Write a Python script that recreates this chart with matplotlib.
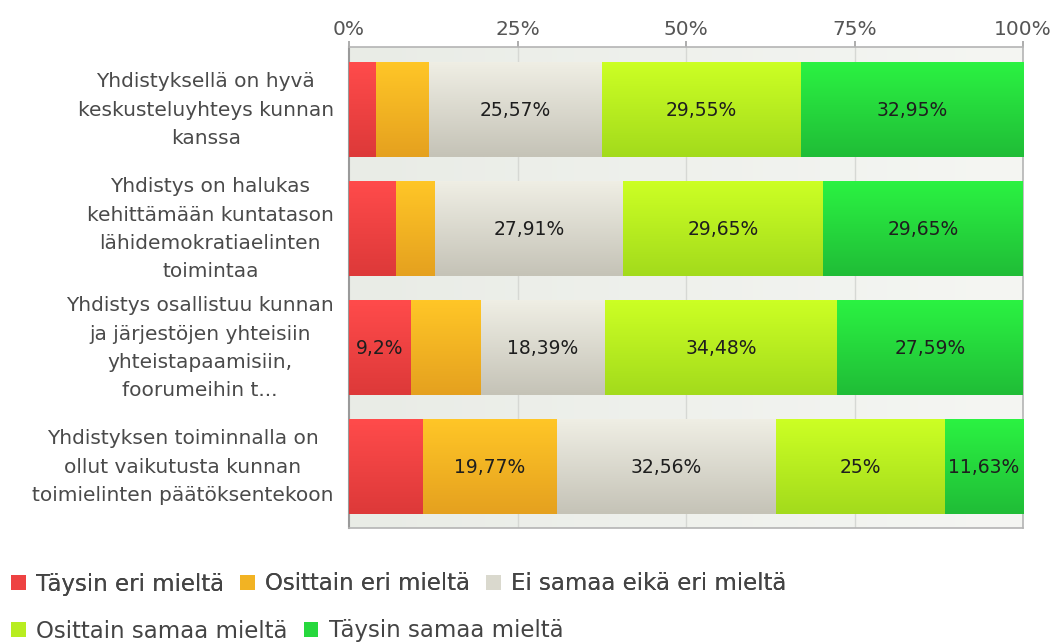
import numpy as np
import matplotlib
matplotlib.use("Agg")
import matplotlib.pyplot as plt
from matplotlib.colors import LinearSegmentedColormap, to_rgb
from matplotlib.patches import Patch

plt.rcParams['font.family'] = ['DejaVu Sans']

# ---------------------------------------------------------------------
# data
# ---------------------------------------------------------------------
categories = [
    "Yhdistyksellä on hyvä\nkeskusteluyhteys kunnan\nkanssa",
    "Yhdistys on halukas\nkehittämään kuntatason\nlähidemokratiaelinten\ntoimintaa",
    "Yhdistys osallistuu kunnan\nja järjestöjen yhteisiin\nyhteistapaamisiin,\nfoorumeihin t...",
    "Yhdistyksen toiminnalla on\nollut vaikutusta kunnan\ntoimielinten päätöksentekoon",
]
series_names = ["Täysin eri mieltä", "Osittain eri mieltä", "Ei samaa eikä eri mieltä",
                "Osittain samaa mieltä", "Täysin samaa mieltä"]

taysin_eri = [3.98, 6.98, 9.2, 11.05]
osittain_eri = [7.95, 5.81, 10.34, 19.77]
ei_samaa = [25.57, 27.91, 18.39, 32.56]
osittain_samaa = [29.55, 29.65, 34.48, 25.0]
taysin_samaa = [32.95, 29.65, 27.59, 11.63]
series_values = [taysin_eri, osittain_eri, ei_samaa, osittain_samaa, taysin_samaa]

# which segments carry a value label in the original (per series, per row)
show_label = [
    [False, False, True, False],
    [False, False, False, True],
    [True, True, True, True],
    [True, True, True, True],
    [True, True, True, True],
]

xticks = [0, 25, 50, 75, 100]
xtick_labels = ["0%", "25%", "50%", "75%", "100%"]

# gradient colours per series (top, bottom)
col_top = ['#FF4B4B', '#FFC627', '#EFEEE4', '#CCFF24', '#2BF242']
col_bot = ['#DD3939', '#E5A11F', '#C5C3B7', '#A3DB1C', '#20BD37']

# ---------------------------------------------------------------------
# figure
# ---------------------------------------------------------------------
fig = plt.figure(figsize=(10.53, 6.42), dpi=100)
ax = fig.add_axes([349 / 1053, 1 - 528 / 642, 674 / 1053, 481 / 642])

# plot-area background, slight horizontal gradient
bg = LinearSegmentedColormap.from_list('bg', ['#E9ECE6', '#F5F6F3'])
ax.imshow(np.linspace(0, 1, 256).reshape(1, -1), cmap=bg, aspect='auto',
          extent=[0, 1, 0, 1], transform=ax.transAxes, zorder=0)

y = np.arange(len(categories))
left = np.zeros(len(categories))
for i, vals in enumerate(series_values):
    vals = np.array(vals)
    bars = ax.barh(y, vals, left=left, height=0.79, color=col_bot[i],
                   edgecolor='none', zorder=2)
    cmap = LinearSegmentedColormap.from_list('s%d' % i, [col_top[i], col_bot[i]])
    grad = np.linspace(0, 1, 64).reshape(-1, 1)
    for j, b in enumerate(bars):
        x0, w = b.get_x(), b.get_width()
        y0, h = b.get_y(), b.get_height()
        ax.imshow(grad, cmap=cmap, aspect='auto', origin='upper',
                  extent=[x0, x0 + w, y0 + h, y0], zorder=3,
                  interpolation='bilinear')
        if show_label[i][j]:
            txt = f"{vals[j]:g}".replace('.', ',') + "%"
            ax.text(x0 + w / 2, y0 + h / 2, txt, ha='center', va='center',
                    fontsize=13.5, color='#1E1E1E', zorder=5)
    left += vals

ax.set_xlim(0, 100)
ax.set_ylim(len(categories) - 0.49, -0.53)

# grid + ticks
for gx in xticks[1:-1]:
    ax.axvline(gx, color='#D6D8D4', lw=1, zorder=1)
ax.xaxis.tick_top()
ax.set_xticks(xticks)
ax.set_xticklabels(xtick_labels, fontsize=14.5, color='#555555')
ax.tick_params(axis='x', length=4, width=1.2, color='#A0A0A0', pad=2)
ax.set_yticks(y)
ax.set_yticklabels(categories, fontsize=14.5, color='#4A4A4A', va='center',
                   multialignment='center', linespacing=1.62)
ax.tick_params(axis='y', length=0, pad=11)

for side in ['top', 'bottom', 'right']:
    ax.spines[side].set_color('#B4B4B4')
    ax.spines[side].set_linewidth(1.2)
ax.spines['left'].set_color('#9A9A9A')
ax.spines['left'].set_linewidth(1.5)

# legend, two rows
mid = [tuple((np.array(to_rgb(a)) + np.array(to_rgb(b))) / 2) for a, b in zip(col_top, col_bot)]
handles = [Patch(facecolor=mid[k], edgecolor='none', label=series_names[k]) for k in range(5)]
leg_kw = dict(frameon=False, loc='center left', fontsize=16.5, handlelength=0.64,
              handleheight=0.64, handletextpad=0.45, columnspacing=0.7,
              borderpad=0, borderaxespad=0, labelcolor='#444444')
leg1 = fig.legend(handles=handles[:3], ncol=3, bbox_to_anchor=(11 / 1053, 1 - 584 / 642), **leg_kw)
fig.add_artist(leg1)
fig.legend(handles=handles[3:], ncol=2, bbox_to_anchor=(11 / 1053, 1 - 631 / 642), **leg_kw)

fig.savefig('out.png', dpi=100, facecolor='white')
